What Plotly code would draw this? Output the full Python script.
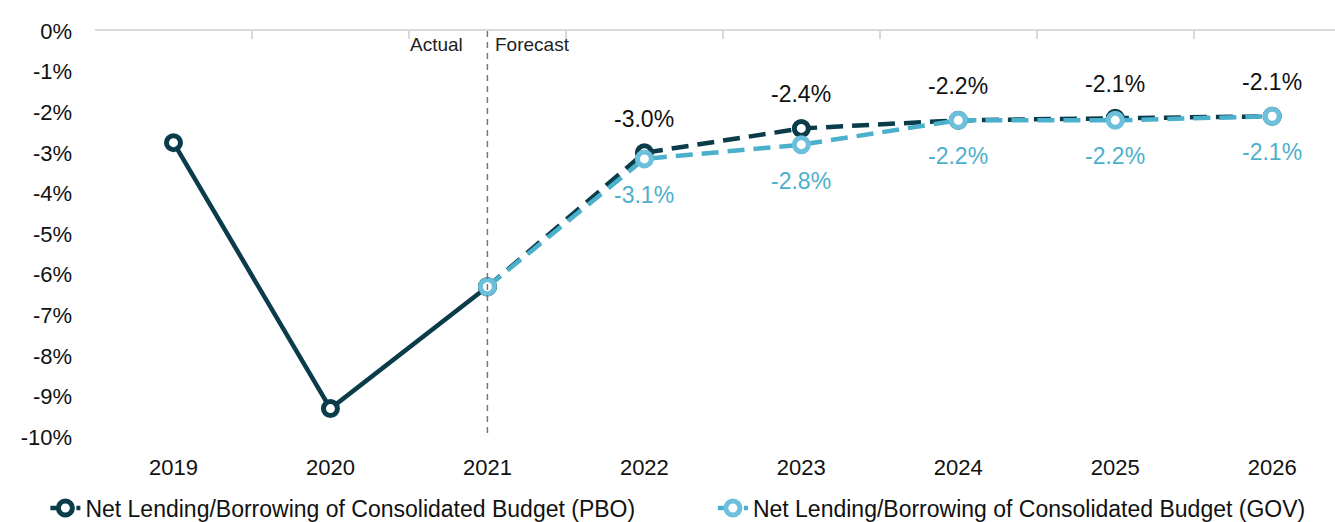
import plotly.graph_objects as go

years = ["2019", "2020", "2021", "2022", "2023", "2024", "2025", "2026"]
pbo_actual = [-2.75, -9.3, -6.3, None, None, None, None, None]
pbo_forecast = [None, None, -6.3, -3.0, -2.4, -2.2, -2.15, -2.1]
gov_forecast = [None, None, -6.3, -3.15, -2.8, -2.2, -2.2, -2.1]
pbo_labels = ["", "", "", "-3.0%", "-2.4%", "-2.2%", "-2.1%", "-2.1%"]
gov_labels = ["", "", "", "-3.1%", "-2.8%", "-2.2%", "-2.2%", "-2.1%"]
y_ticks = [0, -1, -2, -3, -4, -5, -6, -7, -8, -9, -10]
y_tick_text = [f"{v}%" for v in y_ticks]

DARK = "#0a3c49"
LIGHT = "#4bb0cc"
LIGHT_MK = "#6cc0db"
SANS = "Liberation Sans, Arial, sans-serif"

fig = go.Figure()

fig.add_trace(go.Scatter(
    x=years, y=pbo_actual, mode="lines+markers", showlegend=False,
    line=dict(color=DARK, width=4.5),
    marker=dict(size=14, color="white", line=dict(color=DARK, width=5)),
    cliponaxis=False, connectgaps=False,
))
fig.add_trace(go.Scatter(
    x=years, y=pbo_forecast, mode="lines+markers",
    name="Net Lending/Borrowing of Consolidated Budget (PBO)", legend="legend",
    line=dict(color=DARK, width=4.5, dash="17px,9px"),
    marker=dict(size=14, color="white", line=dict(color=DARK, width=5)),
    cliponaxis=False,
))
fig.add_trace(go.Scatter(
    x=years, y=gov_forecast, mode="lines+markers",
    name="Net Lending/Borrowing of Consolidated Budget (GOV)", legend="legend2",
    line=dict(color=LIGHT, width=4.5, dash="17px,9px"),
    marker=dict(size=14, color="white", line=dict(color=LIGHT_MK, width=5)),
    cliponaxis=False,
))
# invisible trace on top axis to activate it
fig.add_trace(go.Scatter(x=years, y=[-5] * len(years), xaxis="x2", mode="markers",
                         marker=dict(opacity=0), showlegend=False, hoverinfo="skip"))

for i, (v, t) in enumerate(zip(pbo_forecast, pbo_labels)):
    if t:
        fig.add_annotation(x=i, y=v, xref="x", yref="y", text=t, showarrow=False,
                           yshift=34, font=dict(family=SANS, size=23, color="#111111"))
for i, (v, t) in enumerate(zip(gov_forecast, gov_labels)):
    if t:
        fig.add_annotation(x=i, y=v, xref="x", yref="y", text=t, showarrow=False,
                           yshift=-36, font=dict(family=SANS, size=23, color=LIGHT))

split = years.index("2021")
fig.add_shape(type="line", xref="x", yref="y", x0=split, x1=split, y0=0, y1=-10,
              line=dict(color="#777777", width=1.5, dash="6px,5px"))
fig.add_annotation(x=split, y=0, xref="x", yref="y", text="Actual", showarrow=False,
                   xanchor="right", yanchor="top", xshift=-22, yshift=-1,
                   font=dict(family=SANS, size=19, color="#222222"))
fig.add_annotation(x=split, y=0, xref="x", yref="y", text="Forecast", showarrow=False,
                   xanchor="left", yanchor="top", xshift=6, yshift=-1,
                   font=dict(family=SANS, size=19, color="#222222"))

xr = [-0.5, 7.4]
leg_common = dict(orientation="h", xref="container", yref="container",
                  yanchor="top", y=0.068, xanchor="left",
                  font=dict(family=SANS, size=23, color="#111111"),
                  itemwidth=30, bgcolor="rgba(0,0,0,0)")
fig.update_layout(
    width=1335, height=522,
    margin=dict(l=95, r=0, t=31, b=85),
    paper_bgcolor="white", plot_bgcolor="white",
    xaxis=dict(type="category", range=xr, showgrid=False, showline=False, ticks="",
               tickfont=dict(family=SANS, size=22, color="#111111"), zeroline=False,
               ticklabelstandoff=15),
    xaxis2=dict(type="category", range=xr, overlaying="x", side="top",
                showline=True, linecolor="#d9d9d9", linewidth=2,
                ticks="inside", ticklen=8, tickwidth=2, tickcolor="#d9d9d9",
                tickson="boundaries", showticklabels=False, showgrid=False),
    yaxis=dict(range=[-10, 0], tickvals=y_ticks, ticktext=y_tick_text,
               showgrid=False, zeroline=False, showline=False, ticks="",
               tickfont=dict(family=SANS, size=22, color="#111111"),
               ticklabelstandoff=22),
    legend=dict(leg_common, x=0.034),
    legend2=dict(leg_common, x=0.534),
    showlegend=True,
)

fig.write_html(
    "out.html",
    config=dict(displayModeBar=False),
    post_script="document.body.style.margin='0';document.body.style.overflow='hidden';",
)
